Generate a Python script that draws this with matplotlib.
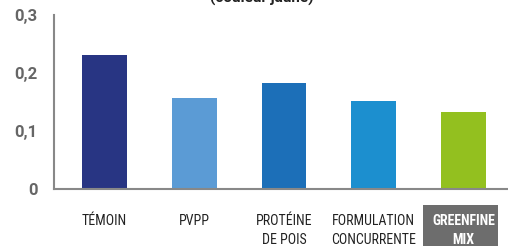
import matplotlib.pyplot as plt
from matplotlib.patches import Rectangle

categories = ['TÉMOIN', 'PVPP', 'PROTÉINE\nDE POIS', 'FORMULATION\nCONCURRENTE', 'GREENFINE\nMIX']
values = [0.231, 0.157, 0.183, 0.152, 0.133]
colors = ['#283583', '#5b9bd5', '#1c6fb8', '#1c8fcf', '#93c01f']
yticks = [0, 0.1, 0.2, 0.3]
ytick_labels = ['0', '0,1', '0,2', '0,3']

W, H = 508, 246
fig = plt.figure(figsize=(W/100, H/100), dpi=100)
ax = fig.add_axes([54/W, 57/H, 454/W, 174/H])

x = list(range(len(categories)))
ax.bar(x, values, width=0.5, color=colors, zorder=2)
ax.set_xlim(-0.561, 4.494)
ax.set_ylim(0, 0.3)

ax.set_yticks(yticks)
ax.set_yticklabels(ytick_labels, fontfamily='Roboto', fontweight='bold', fontsize=12, color='#666666')
ax.tick_params(axis='y', length=0, pad=12)
ax.set_xticks([])

for s in ['top', 'right']:
    ax.spines[s].set_visible(False)
for s in ['left', 'bottom']:
    ax.spines[s].set_color('#888888')
    ax.spines[s].set_linewidth(1.5)

# category labels below the axis
label_y = 1 - 214/H
for i, c in enumerate(categories):
    xf = ax.transData.transform((i, 0))[0] / W
    last = i == len(categories) - 1
    fig.text(xf, label_y, c, ha='center', va='top', fontsize=10, fontfamily='Roboto Condensed',
             fontweight='bold' if last else 'normal', color='white' if last else '#222222',
             linespacing=1.45, zorder=3)
    if last:
        fig.patches.append(Rectangle((423/W, 0), 75/W, 41/H, transform=fig.transFigure,
                                     facecolor='#6d6d6d', edgecolor='none', zorder=1))

fig.text(0.515, 1 - 3/H, '(couleur jaune)', ha='center', va='baseline', fontsize=11,
         fontfamily='Roboto', fontweight='bold', color='#222222')

fig.savefig('out.png', dpi=100)
